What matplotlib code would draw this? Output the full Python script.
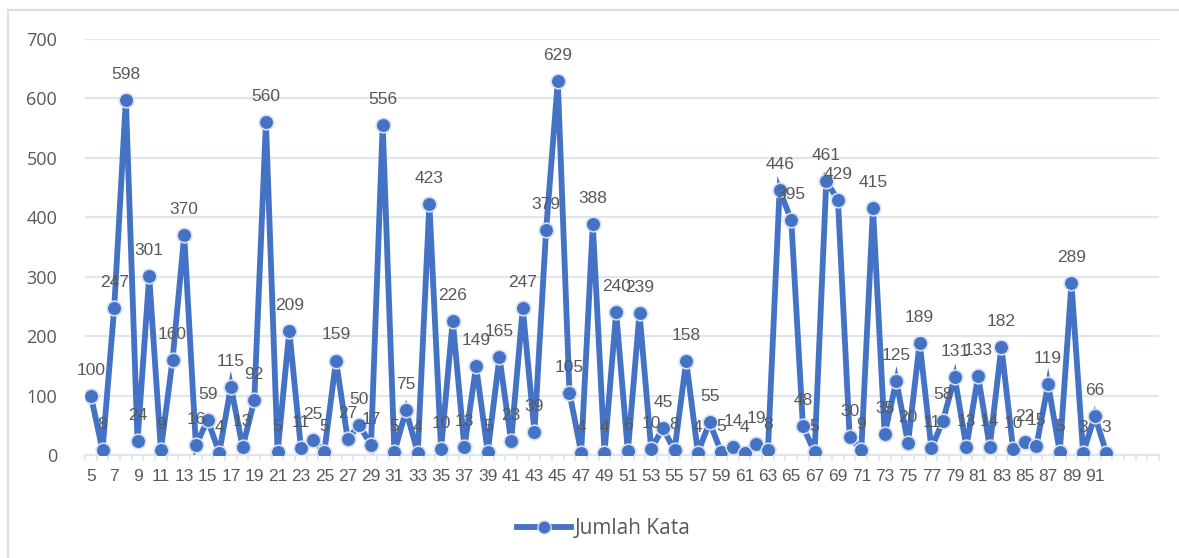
import numpy as np
import matplotlib.pyplot as plt
from matplotlib.lines import Line2D

# chapter/page number on x, word count on y
halaman = list(range(5, 93))
jumlah_kata = [100, 8, 247, 598, 24, 301, 9, 160, 370, 16,
               59, 4, 115, 13, 92, 560, 5, 209, 11, 25,
               5, 159, 27, 50, 17, 556, 5, 75, 4, 423,
               10, 226, 13, 149, 5, 165, 23, 247, 39, 379,
               629, 105, 4, 388, 4, 240, 6, 239, 10, 45,
               8, 158, 4, 55, 5, 14, 4, 19, 8, 446,
               395, 48, 5, 461, 429, 30, 9, 415, 35, 125,
               20, 189, 11, 58, 131, 13, 133, 14, 182, 10,
               22, 15, 119, 5, 289, 3, 66, 3]
y_ticks = [0, 100, 200, 300, 400, 500, 600, 700]
x_last_slot = 96  # empty categories after the last point

biru = '#4472C4'
abu = '#595959'
garis = '#E1E5EE'

narrow = ['Liberation Sans Narrow', 'Liberation Sans', 'DejaVu Sans']

fig = plt.figure(figsize=(11.79, 5.58), dpi=100)
ax = fig.add_axes([85/1179, 1-455/558, (1159-85)/1179, (455-39)/558])

ax.plot(halaman, jumlah_kata, color=biru, lw=4.2, marker='o', ms=10.5,
        mfc=biru, mec='#D6DEEF', mew=1.2, solid_joinstyle='miter', zorder=3)

for x, y in zip(halaman, jumlah_kata):
    ax.annotate(str(y), (x, y), xytext=(0, 13), textcoords='offset points',
                ha='center', va='bottom', fontsize=12.5, color=abu,
                family=narrow, zorder=4)

ax.set_xlim(halaman[0]-0.5, x_last_slot+0.5)
ax.set_ylim(0, 700)
ax.set_yticks(y_ticks)
ax.set_yticklabels([str(v) for v in y_ticks], family='Open Sans', fontsize=13, color=abu)
ax.tick_params(axis='y', length=0, pad=20)

ax.set_xticks(halaman[::2])
ax.set_xticklabels([str(v) for v in halaman[::2]], family=narrow, fontsize=12.5, color=abu)
ax.set_xticks(np.arange(halaman[0]-0.5, x_last_slot+1), minor=True)
ax.tick_params(axis='x', which='major', length=0, pad=10)
ax.tick_params(axis='x', which='minor', length=4, color=garis, width=1.2)

ax.grid(axis='y', color=garis, lw=1.5)
ax.set_axisbelow(True)
for s in ['top', 'right', 'left']:
    ax.spines[s].set_visible(False)
ax.spines['bottom'].set_color(garis)
ax.spines['bottom'].set_linewidth(1.5)

handle = Line2D([], [], color=biru, lw=4.2, marker='o', ms=9.5, mfc=biru, mec='#D6DEEF')
fig.legend([handle], ['Jumlah Kata'], loc='center', bbox_to_anchor=(0.512, 1-529/558),
           frameon=False, prop={'family': 'Open Sans', 'size': 15}, labelcolor=abu,
           handlelength=2.6, handletextpad=0.15)

# chart area border (only top and left are visible in the original)
fig.add_artist(Line2D([8/1179, 8/1179], [0, 1-10/558], color='#D9DEE8', lw=1.5))
fig.add_artist(Line2D([8/1179, 1], [1-10/558, 1-10/558], color='#D9DEE8', lw=1.5))

fig.savefig('out.png', dpi=100)
